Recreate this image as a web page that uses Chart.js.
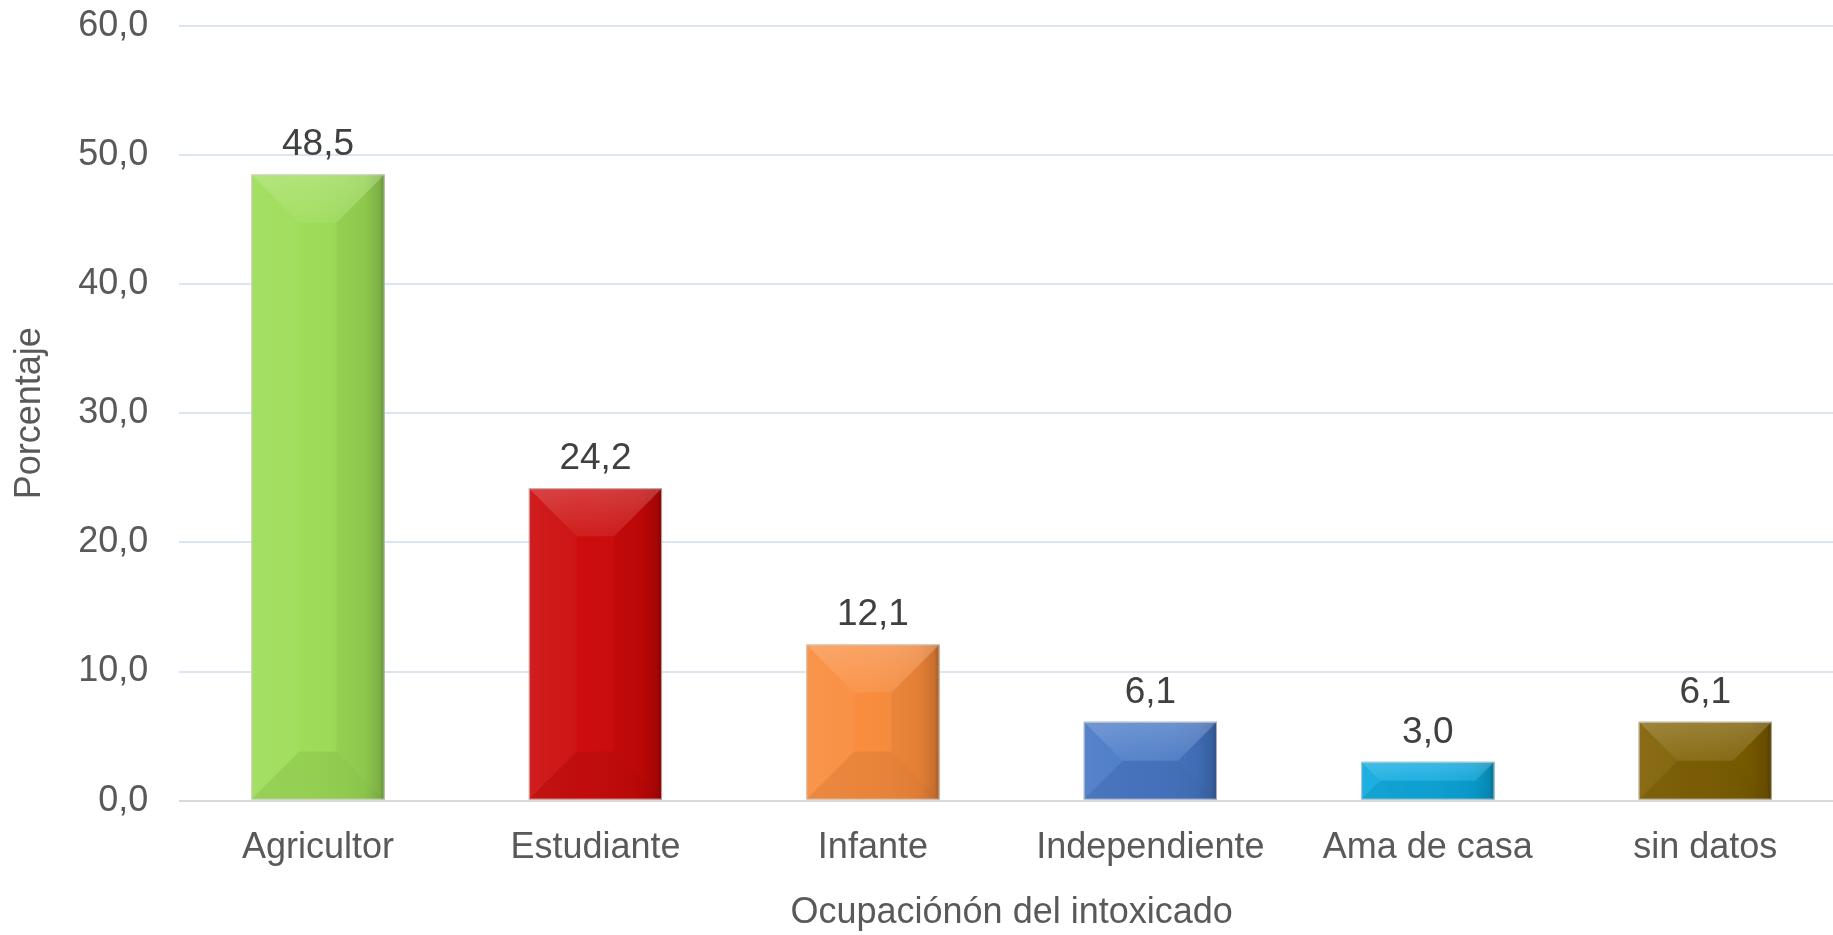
<!DOCTYPE html>
<html lang="es">
<head>
<meta charset="utf-8">
<title>Ocupación del intoxicado</title>
<script src="https://cdn.jsdelivr.net/npm/chart.js@4.4.1/dist/chart.umd.min.js"></script>
<style>
    html, body { margin: 0; padding: 0; background: #fff; overflow: hidden; }
    #wrap { width: 1845px; height: 935px; }
</style>
</head>
<body>
<div id="wrap"><canvas id="ocupacionChart" width="1845" height="935"></canvas></div>
<script>
// Datos del gráfico
const ocupaciones = ['Agricultor', 'Estudiante', 'Infante', 'Independiente', 'Ama de casa', 'sin datos'];
const porcentajes = [48.5, 24.2, 12.1, 6.1, 3.0, 6.1];
const coloresBarra = ['#9cdc55', '#cc0808', '#f98b3b', '#4677c6', '#0aa9de', '#7f5f00'];
const yTicks = [0, 10, 20, 30, 40, 50, 60];

const fmt = v => v.toFixed(1).replace('.', ',');

// Bisel y etiquetas de valor sobre cada barra
const bevelPlugin = {
    id: 'bevel',
    afterDatasetsDraw(chart) {
        const ctx = chart.ctx;
        const meta = chart.getDatasetMeta(0);
        meta.data.forEach((bar, i) => {
            const { x, y, base, width } = bar.getProps(['x', 'y', 'base', 'width'], true);
            const l = x - width / 2, r = x + width / 2, t = y, b = base;
            const s = Math.min(48, (b - t) / 2, width / 2);
            ctx.save();
            // sombreado horizontal, borde derecho más oscuro
            const g = ctx.createLinearGradient(l, 0, r, 0);
            g.addColorStop(0, 'rgba(255,255,255,0.06)');
            g.addColorStop(0.4, 'rgba(255,255,255,0.02)');
            g.addColorStop(0.85, 'rgba(0,0,0,0.05)');
            g.addColorStop(0.96, 'rgba(0,0,0,0.16)');
            g.addColorStop(1, 'rgba(0,0,0,0.32)');
            ctx.fillStyle = g;
            ctx.fillRect(l, t, width, b - t);
            const poly = (pts, color) => {
                ctx.beginPath();
                ctx.moveTo(pts[0][0], pts[0][1]);
                pts.slice(1).forEach(p => ctx.lineTo(p[0], p[1]));
                ctx.closePath();
                ctx.fillStyle = color;
                ctx.fill();
            };
            const gt = ctx.createLinearGradient(0, t, 0, t + s);
            gt.addColorStop(0, 'rgba(255,255,255,0.2)');
            gt.addColorStop(1, 'rgba(255,255,255,0.07)');
            poly([[l, t], [r, t], [r - s, t + s], [l + s, t + s]], gt);
            poly([[l, b], [r, b], [r - s, b - s], [l + s, b - s]], 'rgba(0,0,0,0.06)');
            poly([[l, t], [l + s, t + s], [l + s, b - s], [l, b]], 'rgba(255,255,255,0.03)');
            poly([[r, t], [r - s, t + s], [r - s, b - s], [r, b]], 'rgba(0,0,0,0.04)');
            ctx.strokeStyle = 'rgba(205,205,205,0.8)';
            ctx.lineWidth = 1;
            ctx.strokeRect(l + 0.5, t + 0.5, width - 1, b - t - 1);
            // etiqueta de valor
            ctx.fillStyle = '#404040';
            ctx.font = "37px 'Liberation Sans', Arial, sans-serif";
            ctx.textAlign = 'center';
            ctx.textBaseline = 'alphabetic';
            ctx.fillText(fmt(porcentajes[i]), x, t - 19);
            ctx.restore();
        });
    }
};

Chart.defaults.font.family = "'Liberation Sans', Arial, sans-serif";
Chart.defaults.font.size = 36;
Chart.defaults.color = '#595959';

new Chart(document.getElementById('ocupacionChart'), {
    type: 'bar',
    data: {
        labels: ocupaciones,
        datasets: [{
            data: porcentajes,
            backgroundColor: coloresBarra,
            borderWidth: 0,
            barPercentage: 0.48,
            categoryPercentage: 1
        }]
    },
    options: {
        responsive: false,
        animation: false,
        layout: { padding: { top: 26, left: 8, right: 1, bottom: 0 } },
        plugins: {
            legend: { display: false },
            tooltip: { enabled: false }
        },
        scales: {
            x: {
                grid: { display: true, drawOnChartArea: false, tickLength: 26, tickColor: 'transparent' },
                border: { display: false },
                ticks: { padding: 0, color: '#595959', maxRotation: 0, autoSkip: false },
                title: {
                    display: true,
                    text: 'Ocupaciónón del intoxicado',
                    color: '#595959',
                    padding: { top: 22, bottom: 0 }
                }
            },
            y: {
                min: 0,
                max: 60,
                afterBuildTicks: axis => { axis.ticks = yTicks.map(v => ({ value: v })); },
                grid: {
                    tickLength: 31,
                    tickColor: 'transparent',
                    lineWidth: 2,
                    color: c => (c.tick && c.tick.value === 0 ? '#d9d9d9' : '#dce6f2')
                },
                border: { display: false },
                ticks: { padding: 0, color: '#595959', callback: v => fmt(v) },
                title: {
                    display: true,
                    text: 'Porcentaje',
                    color: '#595959',
                    padding: { top: 0, bottom: 27 }
                }
            }
        }
    },
    plugins: [bevelPlugin]
});
</script>
</body>
</html>
